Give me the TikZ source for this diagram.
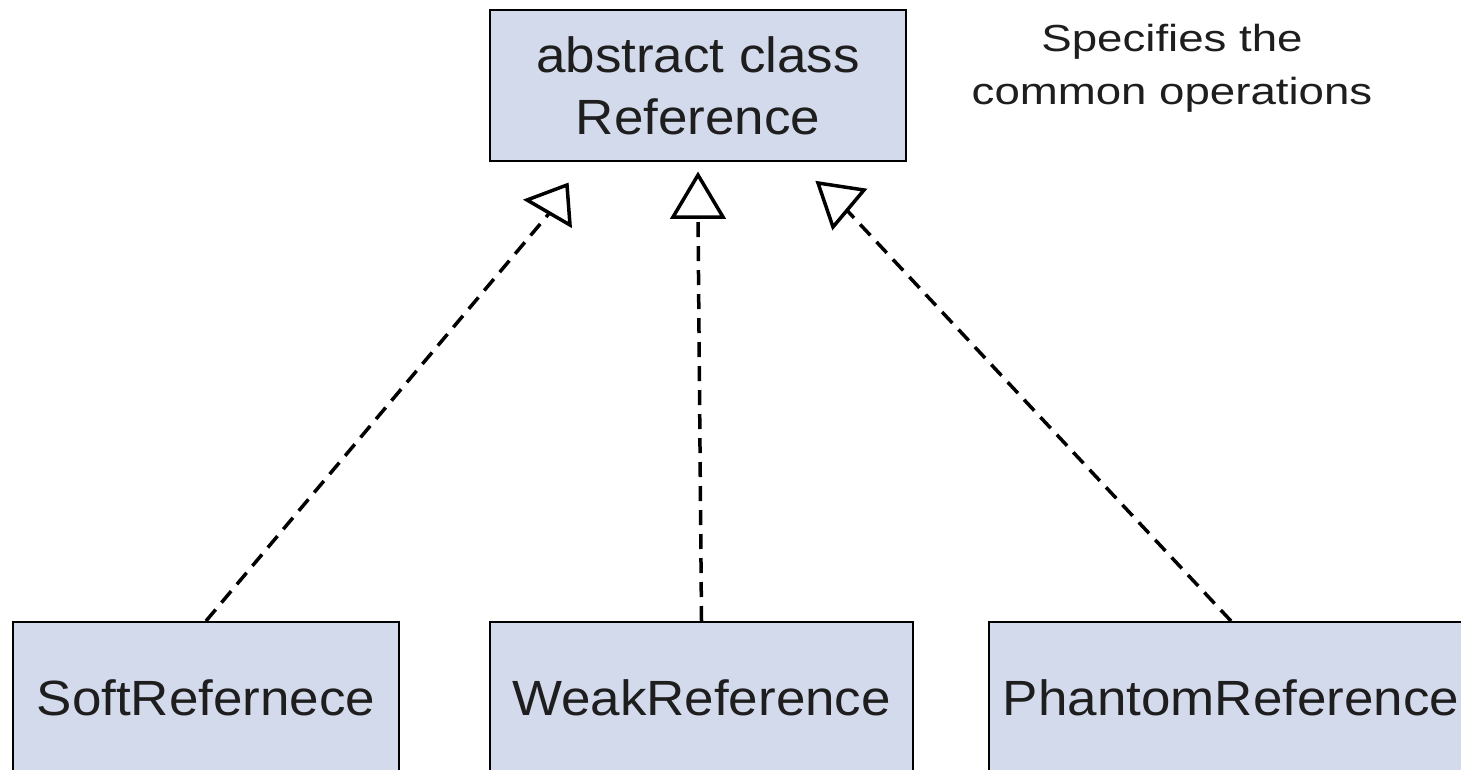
\documentclass[tikz,border=0pt]{standalone}
\usepackage{fontspec}
\setmainfont{Liberation Sans}
\newfontfamily\boxfont{Liberation Sans}[FakeStretch=1.07]
\newfontfamily\notefont{Liberation Sans}[FakeStretch=1.21]
\definecolor{boxfill}{RGB}{211,218,236}
\definecolor{ink}{RGB}{30,30,30}
\begin{document}
\begin{tikzpicture}[x=1pt,y=-1pt,
  classbox/.style={draw=black, line width=2pt, fill=boxfill, text=ink,
    minimum height=151pt, inner sep=0pt, align=center,
    font=\boxfont\fontsize{49.5}{62}\selectfont},
  realize/.style={draw=black, line width=3.5pt, dash pattern=on 15pt off 9pt},
  hollowtip/.style={draw=black, line width=3.5pt, fill=white, line join=miter},
  note/.style={text=ink, inner sep=0pt, align=center,
    font=\notefont\fontsize{37.7}{53}\selectfont}]
\useasboundingbox (0,0) rectangle (1461,770);
\fill[white] (0,0) rectangle (1461,770);
\clip (0,0) rectangle (1461,770);

\node[classbox, line width=1.5pt, minimum width=416pt] (ref) at (698,85.5) {abstract class\\Reference};
\node[note] (spec) at (1172,68.75) {Specifies the\\common operations};

\node[classbox, minimum width=386pt] (soft) at (206,697.5) {SoftRefernece};
\node[classbox, minimum width=423pt] (weak) at (701.5,697.5) {WeakReference};
\node[classbox, minimum width=484pt] (phantom) at (1231,697.5) {PhantomReference};

\coordinate (sa) at (552,210);
\coordinate (wa) at (698,217);
\coordinate (pa) at (842,205);

\draw[realize] (soft.north) -- (sa);
\draw[realize] (weak.north) -- (wa);
\draw[realize] (phantom.north) -- (pa);

\draw[hollowtip] (527,200) -- (567,185) -- (570,225) -- cycle;
\draw[hollowtip] (698,175) -- (673,217) -- (723,217) -- cycle;
\draw[hollowtip] (818,183) -- (864,190) -- (833,227) -- cycle;
\end{tikzpicture}
\end{document}
